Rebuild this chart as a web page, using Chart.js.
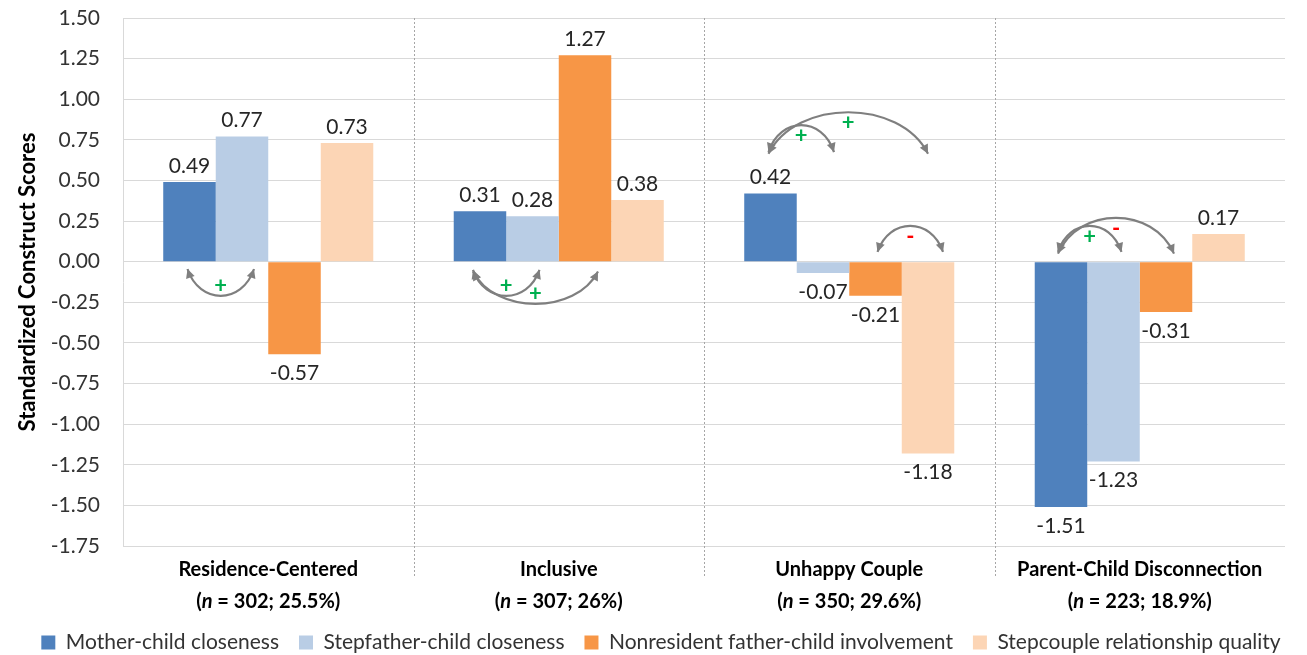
<!DOCTYPE html>
<html>
<head>
<meta charset="utf-8">
<script src="https://cdn.jsdelivr.net/npm/chart.js@4.4.1/dist/chart.umd.min.js"></script>
<style>
  html, body { margin: 0; padding: 0; background: #fff; }
  #wrap { width: 1307px; height: 655px; }
</style>
</head>
<body>
<div id="wrap"><canvas id="chart" width="1307" height="655"></canvas></div>
<script>
// Profile groups (latent classes) and their sizes
const categories = ['Residence-Centered', 'Inclusive', 'Unhappy Couple', 'Parent-Child Disconnection'];
const groupN = [302, 307, 350, 223];
const groupShare = ['25.5%', '26%', '29.6%', '18.9%'];

// Relationship constructs
const seriesNames = [
  'Mother-child closeness',
  'Stepfather-child closeness',
  'Nonresident father-child involvement',
  'Stepcouple relationship quality'
];

// Standardized construct scores per group
const motherChild       = [0.49, 0.31, 0.42, -1.51];
const stepfatherChild   = [0.77, 0.28, -0.07, -1.23];
const nonresidentFather = [-0.57, 1.27, -0.21, -0.31];
const stepcoupleQuality = [0.73, 0.38, -1.18, 0.17];

// Value axis ticks
const yTickValues = [1.5, 1.25, 1.0, 0.75, 0.5, 0.25, 0, -0.25, -0.5, -0.75, -1.0, -1.25, -1.5, -1.75];

// Significant associations between constructs within a group
// (cat = group index, from/to = construct index, sign of the association)
const associations = [
  { cat: 0, from: 0, to: 1, sign: '+' },
  { cat: 1, from: 0, to: 1, sign: '+' },
  { cat: 1, from: 0, to: 2, sign: '+' },
  { cat: 2, from: 0, to: 1, sign: '+' },
  { cat: 2, from: 0, to: 3, sign: '+' },
  { cat: 2, from: 2, to: 3, sign: '-' },
  { cat: 3, from: 0, to: 1, sign: '+' },
  { cat: 3, from: 0, to: 2, sign: '-' }
];

// Placement of each association arc (same order as above):
// horizontal nudges in px from the bar centres, end and apex heights in axis units
const arcLayout = [
  { dx0: -2, dx1: 12, end: -0.045, apex: -0.21 },
  { dx0: -7, dx1: 7,  end: -0.05,  apex: -0.21 },
  { dx0: -7, dx1: 13, end: -0.06,  apex: -0.26 },
  { dx0: -2, dx1: 11, end: 0.675,  apex: 0.84 },
  { dx0: -2, dx1: 0,  end: 0.665,  apex: 0.92 },
  { dx0: 2,  dx1: 15, end: 0.06,   apex: 0.22 },
  { dx0: -3, dx1: 8,  end: 0.06,   apex: 0.22 },
  { dx0: -3, dx1: 8,  end: 0.05,   apex: 0.27 }
];

const seriesColors = ['#4F81BD', '#B9CDE5', '#F79646', '#FCD5B5'];
const FONT = 'Lato';
const CANVAS_H = 655;
const PAD_BOTTOM = -8;
const PLOT_BOTTOM = 546;

Chart.defaults.font.family = FONT;

// Dotted separators between the groups
const groupDividers = {
  id: 'groupDividers',
  beforeDatasetsDraw(chart) {
    const { ctx, chartArea } = chart;
    const xs = chart.scales.x;
    ctx.save();
    ctx.strokeStyle = '#a6a6a6';
    ctx.lineWidth = 1;
    ctx.setLineDash([2, 2]);
    for (let i = 0; i < categories.length - 1; i++) {
      const x = Math.round((xs.getPixelForValue(i) + xs.getPixelForValue(i + 1)) / 2) + 0.5;
      ctx.beginPath();
      ctx.moveTo(x, chartArea.top);
      ctx.lineTo(x, chartArea.bottom + 32);
      ctx.stroke();
    }
    ctx.restore();
  }
};

// Score printed above positive bars and below negative ones
const valueLabels = {
  id: 'valueLabels',
  afterDatasetsDraw(chart) {
    const { ctx } = chart;
    ctx.save();
    ctx.font = '21px ' + FONT;
    ctx.fillStyle = '#262626';
    ctx.textAlign = 'center';
    ctx.textBaseline = 'middle';
    chart.data.datasets.forEach((ds, di) => {
      chart.getDatasetMeta(di).data.forEach((bar, i) => {
        const v = ds.data[i];
        const y = v >= 0 ? bar.y - 16 : bar.y + 19;
        ctx.fillText(v.toFixed(2), bar.x, y);
      });
    });
    ctx.restore();
  }
};

function arrowHead(ctx, x, y, dx, dy) {
  const len = Math.hypot(dx, dy) || 1;
  const ux = dx / len, uy = dy / len;
  const L = 9, W = 4.5;
  ctx.beginPath();
  ctx.moveTo(x, y);
  ctx.lineTo(x - ux * L - uy * W, y - uy * L + ux * W);
  ctx.lineTo(x - ux * L + uy * W, y - uy * L - ux * W);
  ctx.closePath();
  ctx.fill();
}

// Curved double-headed arrows with the sign of each association
const associationArcs = {
  id: 'associationArcs',
  afterDatasetsDraw(chart) {
    const { ctx } = chart;
    const ys = chart.scales.y;
    ctx.save();
    associations.forEach((a, k) => {
      const lay = arcLayout[k];
      const b0 = chart.getDatasetMeta(a.from).data[a.cat];
      const b1 = chart.getDatasetMeta(a.to).data[a.cat];
      const x0 = b0.x + lay.dx0, x1 = b1.x + lay.dx1;
      const yEnd = ys.getPixelForValue(lay.end);
      const yApex = ys.getPixelForValue(lay.apex);
      const w = x1 - x0;
      const cy = yEnd + (yApex - yEnd) / 0.75;
      const c0x = x0 + 0.18 * w, c1x = x1 - 0.18 * w;

      ctx.strokeStyle = '#7f7f7f';
      ctx.fillStyle = '#7f7f7f';
      ctx.lineWidth = 2.2;
      ctx.beginPath();
      ctx.moveTo(x0, yEnd);
      ctx.bezierCurveTo(c0x, cy, c1x, cy, x1, yEnd);
      ctx.stroke();
      arrowHead(ctx, x0, yEnd, x0 - c0x, yEnd - cy);
      arrowHead(ctx, x1, yEnd, x1 - c1x, yEnd - cy);

      const mx = (x0 + 3 * c0x + 3 * c1x + x1) / 8;
      const my = (yEnd + 6 * cy + yEnd) / 8;
      const inward = yEnd > my ? 11 : -10;
      ctx.font = 'bold 22px ' + FONT;
      ctx.textAlign = 'center';
      ctx.textBaseline = 'middle';
      ctx.fillStyle = a.sign === '+' ? '#00B050' : '#FF0000';
      ctx.fillText(a.sign, mx, my + inward);
    });
    ctx.restore();
  }
};

// Two-line group labels with an italic "n"
const groupLabels = {
  id: 'groupLabels',
  afterDraw(chart) {
    const { ctx, chartArea } = chart;
    const xs = chart.scales.x;
    const f = 'bold 20px ' + FONT;
    const fi = 'italic bold 20px ' + FONT;
    ctx.save();
    ctx.fillStyle = '#000';
    ctx.textBaseline = 'middle';
    categories.forEach((name, i) => {
      const cx = xs.getPixelForValue(i);
      ctx.font = f;
      ctx.textAlign = 'center';
      ctx.fillText(name, cx, chartArea.bottom + 24);

      const parts = [
        ['(', f],
        ['n', fi],
        [' = ' + groupN[i] + '; ' + groupShare[i] + ')', f]
      ];
      let total = 0;
      parts.forEach(p => { ctx.font = p[1]; total += ctx.measureText(p[0]).width; });
      let x = cx - total / 2;
      ctx.textAlign = 'left';
      parts.forEach(p => {
        ctx.font = p[1];
        ctx.fillText(p[0], x, chartArea.bottom + 56);
        x += ctx.measureText(p[0]).width;
      });
    });
    ctx.restore();
  }
};

const seriesValues = [motherChild, stepfatherChild, nonresidentFather, stepcoupleQuality];

new Chart(document.getElementById('chart'), {
  type: 'bar',
  data: {
    labels: categories,
    datasets: seriesNames.map((name, i) => ({
      label: name,
      data: seriesValues[i],
      backgroundColor: seriesColors[i],
      borderWidth: 0,
      barPercentage: 1,
      categoryPercentage: 0.723
    }))
  },
  options: {
    responsive: false,
    animation: false,
    devicePixelRatio: 1,
    layout: { padding: { left: 15, right: 0, top: 18, bottom: PAD_BOTTOM } },
    plugins: {
      legend: {
        position: 'bottom',
        labels: {
          boxWidth: 14,
          boxHeight: 14,
          padding: 20,
          color: '#333',
          font: { family: FONT, size: 21 }
        }
      },
      tooltip: { enabled: false }
    },
    scales: {
      x: {
        grid: { display: false },
        border: { display: false },
        ticks: { display: false },
        afterFit(s) {
          const lg = s.chart.legend;
          s.height = CANVAS_H - PAD_BOTTOM - (lg ? lg.height : 51) - PLOT_BOTTOM;
        }
      },
      y: {
        min: -1.75,
        max: 1.5,
        afterBuildTicks(s) { s.ticks = yTickValues.map(v => ({ value: v })); },
        ticks: {
          padding: 23,
          color: '#333',
          font: { family: FONT, size: 21 },
          callback: v => (Math.abs(v) < 1e-9 ? 0 : Number(v)).toFixed(2)
        },
        grid: { color: '#d9d9d9', drawTicks: false },
        border: { display: true, color: '#d9d9d9' },
        title: {
          display: true,
          text: 'Standardized Construct Scores',
          color: '#000',
          padding: { top: 0, bottom: 0 },
          font: { family: FONT, size: 22, weight: 'bold' }
        },
        afterFit(s) {
          s.width = 108;
          s.paddingTop = 0;
          s.paddingBottom = 0;
        }
      },
      rightGap: {
        position: 'right',
        display: true,
        grid: { display: false },
        border: { display: false },
        ticks: { display: false },
        afterFit(s) { s.width = 22; }
      }
    }
  },
  plugins: [groupDividers, valueLabels, associationArcs, groupLabels]
});
</script>
</body>
</html>
